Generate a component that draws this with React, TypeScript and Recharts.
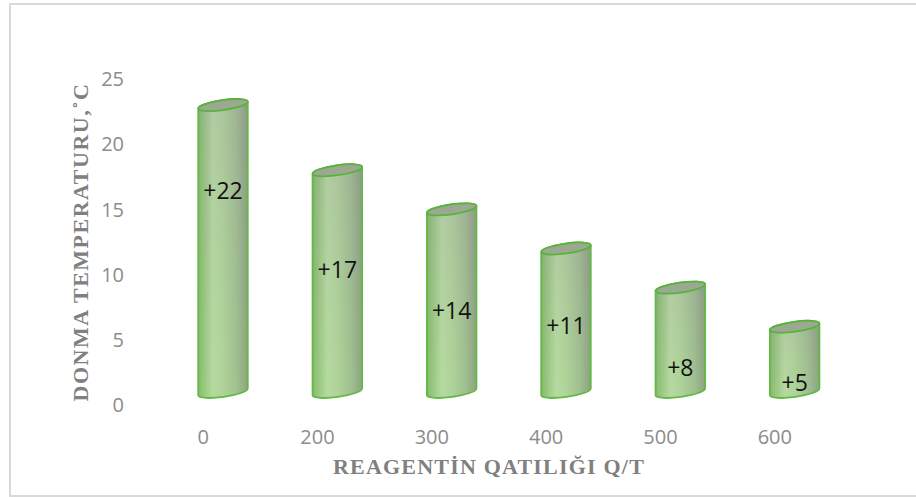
import React from 'react';
import { BarChart, Bar, XAxis, YAxis, Label } from 'recharts';

// reagent dose (q/t) on the x axis, freezing point (°C) on the y axis
const doses = ['0', '200', '300', '400', '500', '600'];
const freezingPoints = [22, 17, 14, 11, 8, 5];
const yTicks = [0, 5, 10, 15, 20, 25];

const chartData = doses.map((dose, i) => ({ dose, temp: freezingPoints[i] }));

// pseudo-3D look: cylinders are pushed right and up by a fixed depth
const DEPTH_X = 20;
const DEPTH_UNITS = 1;
const TILT = -8;
const RY = 5;
// where the value text sits on each cylinder, in axis units
const LABEL_LEVELS = [16.5, 10.4, 7.3, 6.1, 2.9, 1.8];

const GREY = '#8c8c8c';
const SANS = '"Open Sans", "Liberation Sans", sans-serif';
const SERIF = '"Liberation Serif", "Times New Roman", serif';

const Cylinder = (props: any) => {
  const { x, y, width, height, index, payload } = props;
  const temp = payload.temp;
  if (!temp || !height) return null;
  const unit = height / temp;
  const lift = unit * DEPTH_UNITS;
  const cx = x + width / 2 + DEPTH_X;
  const rx = width / 2 + 1;
  const topY = y - lift;
  const botY = y + height - lift;
  const rad = (TILT * Math.PI) / 180;
  const ex = rx * Math.cos(rad);
  const ey = rx * Math.sin(rad);

  const body = [
    `M ${cx - ex} ${topY - ey}`,
    `L ${cx - ex} ${botY - ey}`,
    `A ${rx} ${RY} ${TILT} 0 0 ${cx + ex} ${botY + ey}`,
    `L ${cx + ex} ${topY + ey}`,
    `A ${rx} ${RY} ${TILT} 0 0 ${cx - ex} ${topY - ey}`,
    'Z',
  ].join(' ');

  const baseY = y + height;
  const labelY = baseY - LABEL_LEVELS[index] * unit;

  return (
    <g>
      <defs>
        <linearGradient id={`cyl-h-${index}`} x1="0" y1="0" x2="1" y2="0">
          <stop offset="0%" stopColor="#84b86a" />
          <stop offset="30%" stopColor="#bcdca9" />
          <stop offset="50%" stopColor="#b4d59f" />
          <stop offset="78%" stopColor="#a3bd95" />
          <stop offset="100%" stopColor="#8c9d83" />
        </linearGradient>
        <linearGradient id={`cyl-v-${index}`} x1="0" y1="0" x2="0" y2="1">
          <stop offset="0%" stopColor="#8f8f8f" stopOpacity={0.22} />
          <stop offset="100%" stopColor="#8fd070" stopOpacity={0.15} />
        </linearGradient>
      </defs>
      <path d={body} fill={`url(#cyl-h-${index})`} />
      <path d={body} fill={`url(#cyl-v-${index})`} stroke="#62b945" strokeWidth={1.8} />
      <ellipse
        cx={cx}
        cy={topY}
        rx={rx}
        ry={RY}
        transform={`rotate(${TILT} ${cx} ${topY})`}
        fill="#9ca991"
        stroke="#58b33c"
        strokeWidth={1.8}
      />
      <text
        x={cx}
        y={labelY}
        textAnchor="middle"
        dominantBaseline="central"
        fontFamily={SANS}
        fontSize={23}
        fill="#111"
      >
        {`+${temp}`}
      </text>
    </g>
  );
};

export default function App() {
  return (
    <div
      style={{
        position: 'fixed',
        left: 0,
        top: 0,
        width: 916,
        height: 497,
        overflow: 'hidden',
        background: '#fff',
      }}
    >
      {/* frame: open on the right side */}
      <div
        style={{
          position: 'absolute',
          left: 9,
          top: 3,
          width: 920,
          height: 490,
          borderTop: '2px solid #d9d9d9',
          borderLeft: '2px solid #d9d9d9',
          borderBottom: '2px solid #d9d9d9',
        }}
      />
      <div style={{ position: 'absolute', left: 0, top: 0 }}>
        <BarChart
          width={916}
          height={497}
          data={chartData}
          margin={{ top: 79, right: 84, bottom: 32, left: 20 }}
          barSize={48}
        >
          <XAxis
            dataKey="dose"
            axisLine={false}
            tickLine={false}
            tickSize={0}
            tickMargin={25}
            height={60}
            tick={{ fill: GREY, fontSize: 20, fontFamily: SANS }}
          >
            <Label
              content={({ viewBox }: any) => (
                <text
                  x={viewBox.x + viewBox.width / 2}
                  y={viewBox.y + 69}
                  textAnchor="middle"
                  fontFamily={SERIF}
                  fontWeight="bold"
                  fontSize={22}
                  letterSpacing={1.2}
                  fill="#808080"
                >
                  REAGENTİN QATILIĞI Q/T
                </text>
              )}
            />
          </XAxis>
          <YAxis
            domain={[0, 25]}
            ticks={yTicks}
            axisLine={false}
            tickLine={false}
            tickSize={0}
            tickMargin={22}
            width={126}
            tick={{ fill: GREY, fontSize: 20, fontFamily: SANS }}
          >
            <Label
              content={({ viewBox }: any) => {
                const lx = viewBox.x + 68;
                const ly = viewBox.y + viewBox.height / 2;
                return (
                  <text
                    x={lx}
                    y={ly}
                    transform={`rotate(-90 ${lx} ${ly})`}
                    textAnchor="middle"
                    fontFamily={SERIF}
                    fontWeight="bold"
                    fontSize={22}
                    letterSpacing={1.5}
                    fill="#808080"
                  >
                    DONMA TEMPERATURU,˚C
                  </text>
                );
              }}
            />
          </YAxis>
          <Bar dataKey="temp" shape={Cylinder} isAnimationActive={false} />
        </BarChart>
      </div>
    </div>
  );
}
